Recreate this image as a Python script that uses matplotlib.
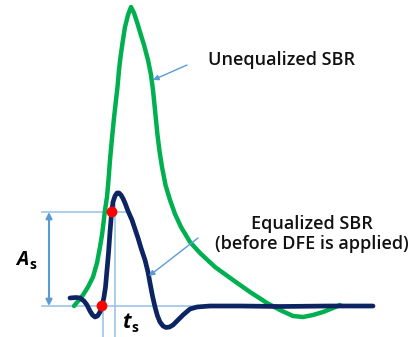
import matplotlib.pyplot as plt

# curves traced in picture pixel coordinates (x right, y down)
green_x = [74, 79, 83, 88, 93, 97, 100, 102, 103.5, 105, 107, 108.5, 110, 112,
           114, 116, 117.5, 119, 120.5, 122.5, 125, 128, 131, 134, 137, 140,
           144, 148, 151, 153, 154.5, 156, 157.5, 159.5, 162, 165.5, 170, 175,
           181, 190, 200, 215, 233, 250, 267, 280, 293, 303, 313, 323, 333, 340]
green_y = [306, 300, 295, 287, 277, 263, 247, 235, 223, 210, 197, 180, 160, 138,
           118, 100, 87, 70, 57, 43, 27, 15, 7, 13, 22, 32,
           45, 60, 75, 90, 105, 120, 135, 151, 167, 185, 200, 214,
           227, 242, 253, 267, 280, 292, 303, 310, 316, 317, 315, 312, 308, 305]

navy_x = [70, 76, 80, 84, 87, 90, 92.5, 95, 97.5, 100, 102, 104, 105.5, 107,
          108.5, 110, 111.5, 113, 115, 117, 119, 121, 123, 125, 128, 132, 135,
          138, 141, 145, 148, 150, 152.5, 155, 157.5, 160, 163, 166, 169.5,
          173, 178, 183, 190, 197, 210, 240, 280, 330, 373]
navy_y = [298, 297.5, 298, 301, 305, 311, 315, 317, 316, 312, 306, 297, 287, 270,
          253, 232, 214, 202, 196, 193, 193, 195, 198.5, 203, 211, 220, 229,
          238, 248, 260, 272, 283, 296, 307, 316, 322, 326, 327.5, 327,
          325, 320, 315, 309, 307, 306, 306, 306.5, 306, 306]

dot_x = [102, 112]
dot_y = [306, 212]

labels = ["Unequalized SBR", "Equalized SBR\n(before DFE is applied)"]

fig = plt.figure(figsize=(4.16, 3.37), dpi=100)
ax = fig.add_axes([0, 0, 1, 1])
ax.set_xlim(0, 416)
ax.set_ylim(337, 0)
ax.axis("off")

guide = "#9DC3E6"
arrow_c = "#5B9BD5"

# guide lines
ax.plot([42, 372], [306, 306], color=guide, lw=1.2, zorder=1)
ax.plot([42, 125], [212, 212], color=guide, lw=1.2, zorder=1)
ax.plot([103, 103], [306, 337], color=guide, lw=1.2, zorder=1)
ax.plot([115, 115], [205, 337], color=guide, lw=1.2, zorder=1)

ax.annotate("", xy=(49, 306), xytext=(49, 212),
            arrowprops=dict(arrowstyle="<|-|>", color=arrow_c, lw=1.5,
                            mutation_scale=9, shrinkA=0, shrinkB=0))

ax.plot(green_x, green_y, color="#00B050", lw=3.2, solid_capstyle="round",
        solid_joinstyle="round", zorder=2)
ax.plot(navy_x, navy_y, color="#0D2463", lw=3.4, solid_capstyle="round",
        solid_joinstyle="round", zorder=3)
ax.scatter(dot_x, dot_y, s=60, color="#FF0000", zorder=4, edgecolors="none")

# pointers
ax.annotate("", xy=(153, 80), xytext=(187, 65),
            arrowprops=dict(arrowstyle="-|>", color=arrow_c, lw=1.0,
                            mutation_scale=8, shrinkA=0, shrinkB=0))
ax.annotate("", xy=(149, 276), xytext=(198, 238),
            arrowprops=dict(arrowstyle="-|>", color=arrow_c, lw=1.0,
                            mutation_scale=8, shrinkA=0, shrinkB=0))

font = "Open Sans"
ax.text(282, 60, labels[0], ha="center", va="center", fontsize=13,
        family=font, fontweight="semibold", color="#111111")
ax.text(312, 234, labels[1], ha="center", va="center", fontsize=13,
        family=font, fontweight="semibold", color="#111111", linespacing=1.2)

ax.text(28, 265, "A", ha="right", va="baseline", fontsize=14, family=font,
        fontweight="bold", style="italic", color="black")
ax.text(29, 269, "s", ha="left", va="baseline", fontsize=10, family=font,
        fontweight="bold", color="black")
ax.text(131, 328, "t", ha="right", va="baseline", fontsize=15, family=font,
        fontweight="bold", style="italic", color="black")
ax.text(131, 332, "s", ha="left", va="baseline", fontsize=10, family=font,
        fontweight="bold", color="black")

fig.savefig("out.png", dpi=100)
